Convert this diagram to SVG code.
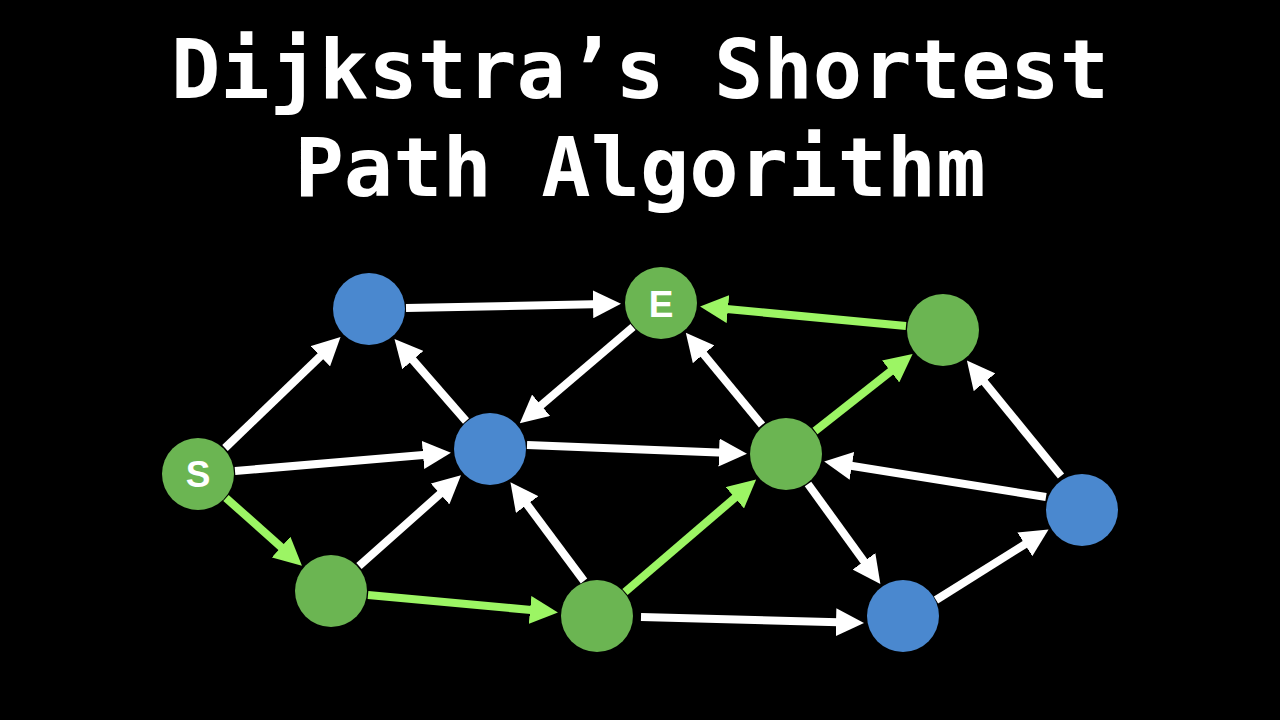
<svg xmlns="http://www.w3.org/2000/svg" width="1280" height="720" viewBox="0 0 1280 720">
<style>
.title{font-family:"DejaVu Sans Mono","Liberation Mono",monospace;font-weight:bold;font-size:82px;fill:#ffffff;text-anchor:middle}
.g{fill:#6bb552}
.b{fill:#4a88cf}
.lbl{font-family:"Liberation Sans",Arial,sans-serif;font-weight:bold;font-size:37px;fill:#ffffff;text-anchor:middle}
.w{stroke:#ffffff;stroke-width:8;fill:none;marker-end:url(#aw)}
.p{stroke:#9cf564;stroke-width:8;fill:none;marker-end:url(#ap)}
</style>
<defs>
<marker id="aw" markerUnits="userSpaceOnUse" markerWidth="28" markerHeight="28" refX="12" refY="14" orient="auto"><path d="M0,0 L28,14 L0,28 z" fill="#ffffff"/></marker>
<marker id="ap" markerUnits="userSpaceOnUse" markerWidth="28" markerHeight="28" refX="12" refY="14" orient="auto"><path d="M0,0 L28,14 L0,28 z" fill="#9cf564"/></marker>
</defs>
<rect width="1280" height="720" fill="#000000"/>
<text class="title" x="640" y="98">Dijkstra’s Shortest</text>
<text class="title" x="640" y="196">Path Algorithm</text>
<g id="connectors">
<line class="w" x1="406" y1="308" x2="605" y2="304"/>
<line class="w" x1="225" y1="448" x2="329" y2="348"/>
<line class="w" x1="235" y1="471" x2="435" y2="454"/>
<line class="p" x1="226" y1="498" x2="290" y2="555"/>
<line class="w" x1="359" y1="566" x2="449" y2="486"/>
<line class="p" x1="368" y1="595" x2="542" y2="611"/>
<line class="w" x1="466" y1="421" x2="405" y2="351"/>
<line class="w" x1="633" y1="327" x2="532" y2="413"/>
<line class="w" x1="527" y1="445" x2="731" y2="453"/>
<line class="w" x1="584" y1="581" x2="520" y2="495"/>
<line class="p" x1="625" y1="592" x2="744" y2="490"/>
<line class="w" x1="641" y1="617" x2="848" y2="622.5"/>
<line class="w" x1="762" y1="425" x2="696" y2="345"/>
<line class="p" x1="815" y1="431" x2="900" y2="364"/>
<line class="p" x1="906" y1="326" x2="716" y2="308"/>
<line class="w" x1="1046" y1="497" x2="840" y2="464"/>
<line class="w" x1="1061" y1="476" x2="977" y2="373"/>
<line class="w" x1="808" y1="484" x2="871" y2="571"/>
<line class="w" x1="936" y1="600" x2="1035" y2="538"/>
</g>
<g id="node-S"><circle class="g" cx="198" cy="474" r="36"/><text class="lbl" x="198" y="487">S</text></g>
<g id="node-A"><circle class="b" cx="369" cy="309" r="36"/></g>
<g id="node-E"><circle class="g" cx="661" cy="303" r="36"/><text class="lbl" x="661" y="317">E</text></g>
<g id="node-B"><circle class="b" cx="490" cy="449" r="36"/></g>
<g id="node-C"><circle class="g" cx="943" cy="330" r="36"/></g>
<g id="node-D"><circle class="g" cx="786" cy="454" r="36"/></g>
<g id="node-F"><circle class="b" cx="1082" cy="510" r="36"/></g>
<g id="node-G"><circle class="g" cx="331" cy="591" r="36"/></g>
<g id="node-H"><circle class="g" cx="597" cy="616" r="36"/></g>
<g id="node-I"><circle class="b" cx="903" cy="616" r="36"/></g>
</svg>
